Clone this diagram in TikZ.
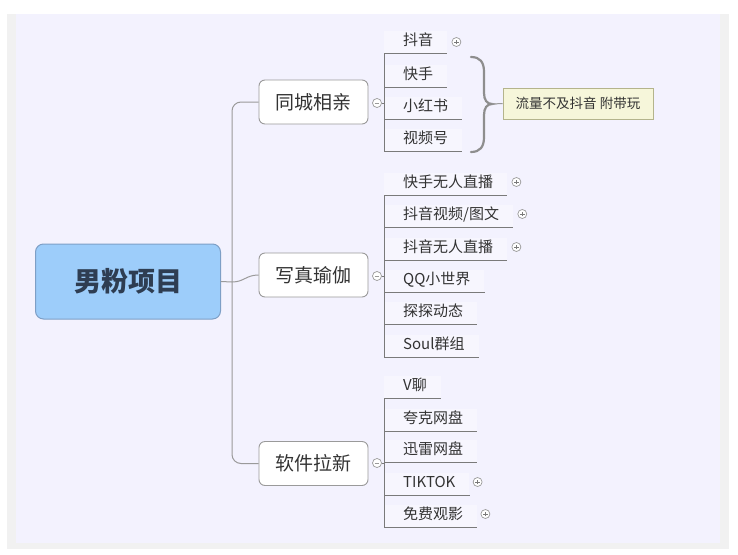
\documentclass[tikz,border=0pt]{standalone}
\usepackage{fontspec}
\setmainfont{Noto Sans CJK SC}
\definecolor{bglav}{HTML}{F3F2FE}
\definecolor{bggray}{HTML}{F1F1F1}
\definecolor{txt}{HTML}{333333}
\definecolor{linegray}{HTML}{7A7A7A}
\definecolor{boxgray}{HTML}{9A9A9A}
\definecolor{bracegray}{HTML}{8E8E8E}
\definecolor{rootfill}{HTML}{9DCDFA}
\definecolor{rootdraw}{HTML}{7E9FC6}
\definecolor{roottxt}{HTML}{2E3D52}
\definecolor{notefill}{HTML}{F6F6DA}
\definecolor{notedraw}{HTML}{B4B48C}
\begin{document}
\begin{tikzpicture}[x=1pt,y=-1pt,
  rootbox/.style={draw=rootdraw, fill=rootfill, rounded corners=8pt, line width=1pt,
    minimum width=185pt, minimum height=75pt, inner sep=0pt,
    font=\fontsize{27}{27}\selectfont\bfseries, text=roottxt},
  branchbox/.style={draw=boxgray, fill=white, rounded corners=6pt, line width=0.9pt,
    minimum width=109pt, minimum height=44pt, inner sep=0pt,
    font=\fontsize{19}{19}\selectfont, text=txt},
  leaf/.style={anchor=south west, inner xsep=0pt, inner ysep=3.3pt,
    text height=11pt, text depth=4pt, fill=white, fill opacity=0.35, text opacity=1,
    font=\fontsize{15}{15}\selectfont, text=txt,
    execute at begin node={\hspace*{19pt}}, execute at end node={\hspace*{14pt}}},
  uline/.style={draw=linegray, line width=1pt},
  conn/.style={draw=boxgray, line width=1pt},
  bracestyle/.style={draw=bracegray, line width=2.2pt, line cap=round},
  plusmark/.style={circle, draw=boxgray, fill=white, minimum size=9pt, inner sep=0pt, line width=0.7pt,
    path picture={\draw[linegray, line width=0.7pt]
      ([xshift=-2.3pt]path picture bounding box.center) -- ([xshift=2.3pt]path picture bounding box.center)
      ([yshift=-2.3pt]path picture bounding box.center) -- ([yshift=2.3pt]path picture bounding box.center);}},
  minusmark/.style={circle, draw=boxgray, fill=white, minimum size=9pt, inner sep=0pt, line width=0.7pt,
    path picture={\draw[boxgray, line width=0.7pt]
      ([xshift=-2.3pt]path picture bounding box.center) -- ([xshift=2.3pt]path picture bounding box.center);}},
  notebox/.style={draw=notedraw, fill=notefill, line width=0.8pt, minimum width=150pt, minimum height=31pt,
    inner sep=0pt, font=\fontsize{13.5}{13.5}\selectfont, text=txt}
]
\useasboundingbox (0,0) rectangle (738,554);
\fill[white] (0,0) rectangle (738,554);
\fill[bggray] (7,14) rectangle (729,549);
\fill[bglav] (16,14) rectangle (720,543);

% root
\node[rootbox] (root) at (128,281.5) {男粉项目};

% branches
\node[branchbox] (b1) at (313.5,102) {同城相亲};
\node[branchbox] (b2) at (313.5,275) {写真瑜伽};
\node[branchbox] (b3) at (313.5,463.5) {软件拉新};
\node[minusmark] (c1) at (377,103) {};
\node[minusmark] (c2) at (377,276) {};
\node[minusmark] (c3) at (377,463) {};

% root to branches
\coordinate (tj) at (232,282);
\draw[conn] (root.east) -- (tj);
\draw[conn, rounded corners=9pt] (b1.west) -| (tj) |- (b3.west);
\draw[conn] (tj) .. controls (244,282) and (246,275) .. (b2.west);

% group 1
\node[leaf] (a1) at (384,53) {抖音};
\node[leaf] (a2) at (384,87) {快手};
\node[leaf] (a3) at (384,119) {小红书};
\node[leaf] (a4) at (384,151) {视频号};
\foreach \n in {a1,a2,a3,a4} \draw[uline] (\n.south west) -- (\n.south east);
\draw[uline] (a1.south west) -- (a4.south west);
\draw[uline] (c1.east) -- (c1.east -| a1.south west);
\node[plusmark] (pa1) at ([xshift=9pt,yshift=11pt]a1.south east) {};

% brace and note
\draw[bracestyle] (471,57) .. controls (480,57) and (484,62) .. (484,72) -- (484,93)
  .. controls (484,100) and (487,104) .. (492,104)
  .. controls (487,104) and (484,108) .. (484,115) -- (484,137)
  .. controls (484,147) and (480,152) .. (471,152);
\coordinate (bt) at (492,104);
\node[notebox] (note) at (578,103.5) {流量不及抖音 附带玩};
\draw[conn] (bt) -- (note.west);

% group 2
\node[leaf] (w1) at (384,195) {快手无人直播};
\node[leaf] (w2) at (384,227) {抖音视频/图文};
\node[leaf] (w3) at (384,260) {抖音无人直播};
\node[leaf] (w4) at (384,292) {QQ小世界};
\node[leaf] (w5) at (384,324) {探探动态};
\node[leaf] (w6) at (384,357) {Soul群组};
\foreach \n in {w1,w2,w3,w4,w5,w6} \draw[uline] (\n.south west) -- (\n.south east);
\draw[uline] (w1.south west) -- (w6.south west);
\draw[uline] (c2.east) -- (c2.east -| w1.south west);
\node[plusmark] (pw1) at ([xshift=9pt,yshift=13pt]w1.south east) {};
\node[plusmark] (pw2) at ([xshift=9pt,yshift=13pt]w2.south east) {};
\node[plusmark] (pw3) at ([xshift=9pt,yshift=13pt]w3.south east) {};

% group 3
\node[leaf] (s1) at (384,398) {V聊};
\node[leaf] (s2) at (384,431) {夸克网盘};
\node[leaf] (s3) at (384,462) {迅雷网盘};
\node[leaf] (s4) at (384,495) {TIKTOK};
\node[leaf] (s5) at (384,527) {免费观影};
\foreach \n in {s1,s2,s3,s4,s5} \draw[uline] (\n.south west) -- (\n.south east);
\draw[uline] (s1.south west) -- (s5.south west);
\draw[uline] (c3.east) -- (c3.east -| s1.south west);
\node[plusmark] (ps4) at ([xshift=8pt,yshift=13pt]s4.south east) {};
\node[plusmark] (ps5) at ([xshift=8pt,yshift=13pt]s5.south east) {};
\end{tikzpicture}
\end{document}
